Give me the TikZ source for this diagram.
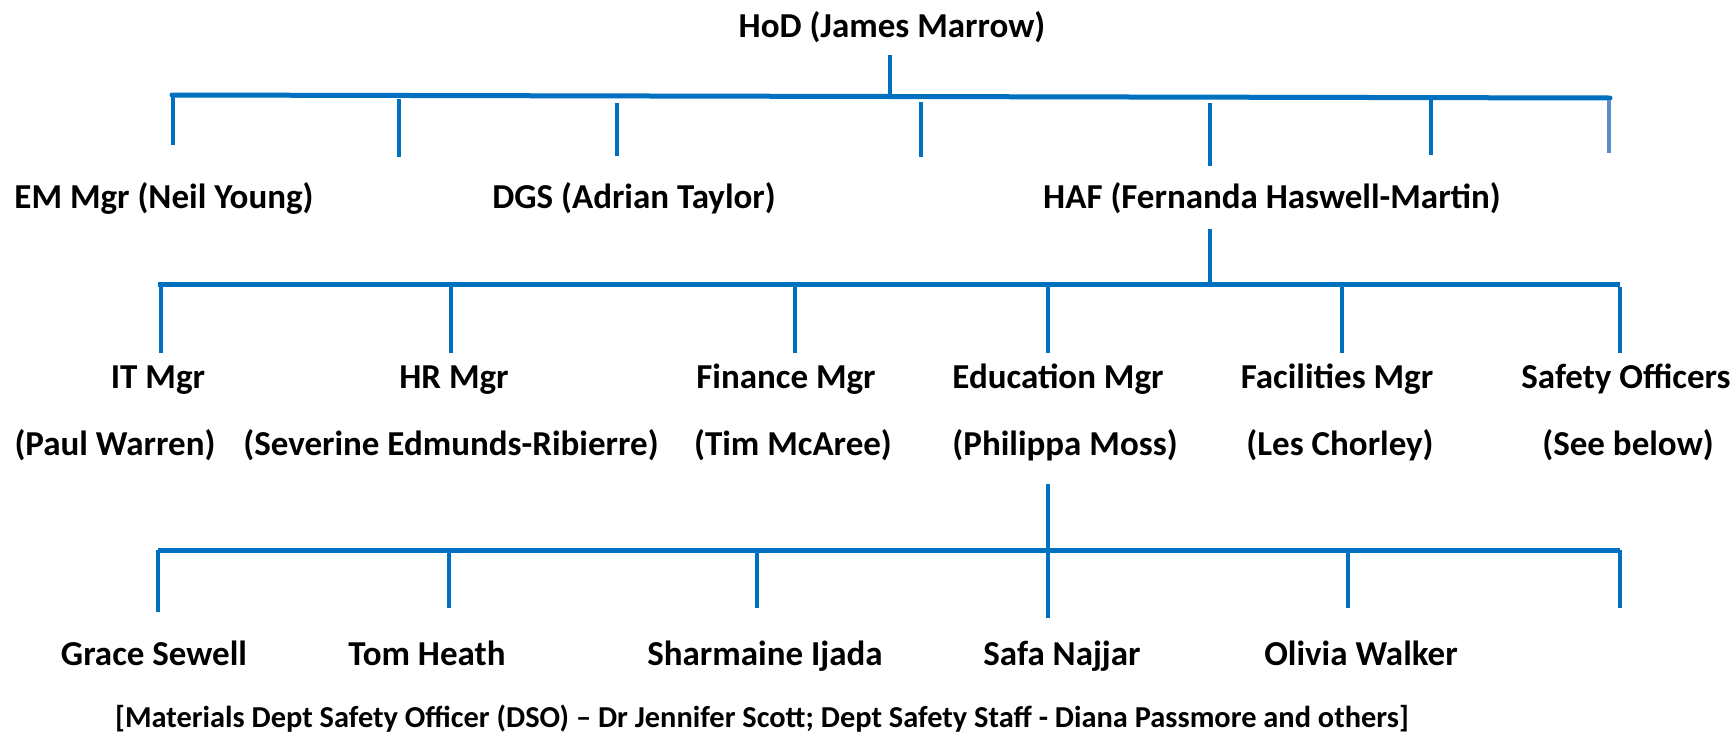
\documentclass[tikz,border=0pt]{standalone}
\usepackage{fontspec}
\setmainfont{Carlito}
\definecolor{orgblue}{HTML}{0070C0}
\definecolor{lightblue}{HTML}{5B8BC9}
\begin{document}
\begin{tikzpicture}[x=1pt,y=-1pt,
  lbl/.style={anchor=base,inner sep=0pt,font=\fontsize{35}{42}\selectfont\bfseries},
  note/.style={anchor=base,inner sep=0pt,font=\fontsize{30.4}{36}\selectfont\bfseries},
  bar/.style={draw=orgblue,line width=5pt},
  drop/.style={draw=orgblue,line width=4.5pt}]
\useasboundingbox (0,0) rectangle (1736,734);
% ---- texts ----
\node[lbl] (hod) at (892,37) {HoD (James Marrow)};
\node[lbl] (em) at (164,208) {EM Mgr (Neil Young)};
\node[lbl] (dgs) at (634,208) {DGS (Adrian Taylor)};
\node[lbl] (haf) at (1272,208) {HAF (Fernanda Haswell-Martin)};
\node[lbl] (it) at (158,388) {IT Mgr};
\node[lbl] (hr) at (454,388) {HR Mgr};
\node[lbl] (fin) at (786,388) {Finance Mgr};
\node[lbl] (edu) at (1058,388) {Education Mgr};
\node[lbl] (fac) at (1337,388) {Facilities Mgr};
\node[lbl] (saf) at (1626,388) {Safety Officers};
\node[lbl] (itn) at (115,455) {(Paul Warren)};
\node[lbl] (hrn) at (451,455) {(Severine Edmunds-Ribierre)};
\node[lbl] (finn) at (793,455) {(Tim McAree)};
\node[lbl] (edun) at (1065,455) {(Philippa Moss)};
\node[lbl] (facn) at (1340,455) {(Les Chorley)};
\node[lbl] (safn) at (1628,455) {(See below)};
\node[lbl] (grace) at (154,665) {Grace Sewell};
\node[lbl] (tom) at (427,665) {Tom Heath};
\node[lbl] (shar) at (765,665) {Sharmaine Ijada};
\node[lbl] (safa) at (1062,665) {Safa Najjar};
\node[lbl] (olivia) at (1361,665) {Olivia Walker};
\node[note] (dso) at (762,727) {[Materials Dept Safety Officer (DSO) -- Dr Jennifer Scott; Dept Safety Staff - Diana Passmore and others]};
% ---- top level ----
\coordinate (hodb) at (890,55);
\coordinate (t0) at (172,95);
\coordinate (tc) at (890,96.8);
\coordinate (t1) at (1610,98);
\draw[drop] (hodb) -- (tc);
\draw[bar,line cap=round] (t0) -- (t1);
\foreach \xx/\ya/\yb [count=\ii] in {173/95/145,399/99/157,617/103/156,921/102/157,1210/103/166,1431/100/155}{
  \coordinate (ta\ii) at (\xx,\ya);
  \coordinate (tb\ii) at (\xx,\yb);
  \draw[drop] (ta\ii) -- (tb\ii);
}
\coordinate (ta7) at (1609,100);
\coordinate (tb7) at (1609,153);
\draw[drop,draw=lightblue] (ta7) -- (tb7);
% ---- second level ----
\coordinate (hafb) at (1210,229);
\coordinate (m0) at (158,284);
\coordinate (mc) at (1210,284);
\coordinate (m1) at (1620,284);
\draw[drop] (hafb) -- (mc);
\draw[bar] (m0) -- (m1);
\foreach \xx [count=\ii] in {161,451,795,1048,1342,1620}{
  \coordinate (ma\ii) at (\xx,287);
  \coordinate (mb\ii) at (\xx,353);
  \draw[drop] (ma\ii) -- (mb\ii);
}
% ---- third level ----
\coordinate (edub) at (1048,484);
\coordinate (b0) at (158,550);
\coordinate (b1) at (1620,550);
\coordinate (eduend) at (1048,618);
\draw[bar] (b0) -- (b1);
\draw[drop] (edub) -- (eduend);
\foreach \xx/\yb [count=\ii] in {158/612,449/608,757/608,1348/608,1620/608}{
  \coordinate (ba\ii) at (\xx,550);
  \coordinate (bb\ii) at (\xx,\yb);
  \draw[drop] (ba\ii) -- (bb\ii);
}
\end{tikzpicture}
\end{document}
